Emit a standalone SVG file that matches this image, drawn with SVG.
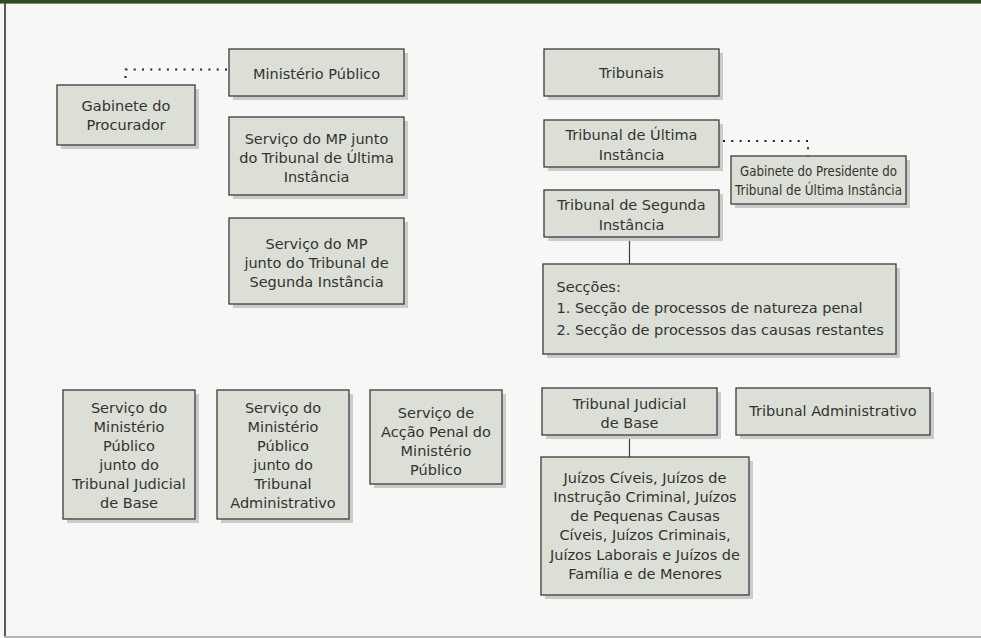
<svg xmlns="http://www.w3.org/2000/svg" width="981" height="638" viewBox="0 0 981 638">
<style>
.shadow{fill:#cbcbcb}
.box{fill:#dcdfd5;stroke:#3c3c3c;stroke-width:1.3}
.t{font-family:"DejaVu Sans","Liberation Sans",sans-serif;font-size:14.5px;fill:#333;text-anchor:middle}
.tl{text-anchor:start}
.conn{stroke:#3c3c3c;stroke-width:1.2;fill:none}
.dot{stroke:#222;stroke-width:2;fill:none;stroke-dasharray:2 6.3}
</style>
<rect x="0" y="0" width="981" height="638" fill="#f7f7f5"/>
<rect x="0" y="0" width="981" height="3" fill="#2f4d20"/>
<rect x="0" y="3" width="981" height="1" fill="#7a8f6e"/>
<rect x="4" y="3" width="2" height="634" fill="#5a5a5a"/>
<rect x="4" y="636" width="977" height="2" fill="#b5b5b5"/>

<g id="connectors">
<path class="dot" d="M227,69.5 H125.5 V80"/>
<path class="dot" d="M723,141 H808 V156"/>
<line class="conn" x1="629.5" y1="237" x2="629.5" y2="264"/>
<line class="conn" x1="629.5" y1="435" x2="629.5" y2="457"/>
</g>

<g id="ministerio-publico">
<rect class="shadow" x="233" y="53" width="175" height="47"/>
<rect class="box" x="229" y="49" width="175" height="47"/>
<text class="t" x="316.5" y="78.5">Ministério Público</text>
</g>

<g id="gabinete-procurador">
<rect class="shadow" x="61" y="89" width="138" height="60"/>
<rect class="box" x="57" y="85" width="138" height="60"/>
<text class="t" x="126" y="111">Gabinete do</text>
<text class="t" x="126" y="130">Procurador</text>
</g>

<g id="servico-mp-tui">
<rect class="shadow" x="233" y="121" width="175" height="78"/>
<rect class="box" x="229" y="117" width="175" height="78"/>
<text class="t" x="316.5" y="144">Serviço do MP junto</text>
<text class="t" x="316.5" y="163">do Tribunal de Última</text>
<text class="t" x="316.5" y="182">Instância</text>
</g>

<g id="servico-mp-tsi">
<rect class="shadow" x="233" y="222" width="175" height="86"/>
<rect class="box" x="229" y="218" width="175" height="86"/>
<text class="t" x="316.5" y="249">Serviço do MP</text>
<text class="t" x="316.5" y="268">junto do Tribunal de</text>
<text class="t" x="316.5" y="287">Segunda Instância</text>
</g>

<g id="tribunais">
<rect class="shadow" x="548" y="53" width="175" height="47"/>
<rect class="box" x="544" y="49" width="175" height="47"/>
<text class="t" x="631.5" y="77.5">Tribunais</text>
</g>

<g id="tui">
<rect class="shadow" x="548" y="124" width="175" height="47"/>
<rect class="box" x="544" y="120" width="175" height="47"/>
<text class="t" x="631.5" y="140">Tribunal de Última</text>
<text class="t" x="631.5" y="160">Instância</text>
</g>

<g id="gabinete-presidente">
<rect class="shadow" x="735" y="160" width="175" height="48"/>
<rect class="box" x="731" y="156" width="175" height="48"/>
<text class="t" x="818.5" y="176" textLength="157" lengthAdjust="spacingAndGlyphs">Gabinete do Presidente do</text>
<text class="t" x="818.5" y="194.5" textLength="167" lengthAdjust="spacingAndGlyphs">Tribunal de Última Instância</text>
</g>

<g id="tsi">
<rect class="shadow" x="548" y="194" width="175" height="47"/>
<rect class="box" x="544" y="190" width="175" height="47"/>
<text class="t" x="631.5" y="210">Tribunal de Segunda</text>
<text class="t" x="631.5" y="229.5">Instância</text>
</g>

<g id="seccoes">
<rect class="shadow" x="547" y="268" width="353" height="90"/>
<rect class="box" x="543" y="264" width="353" height="90"/>
<text class="t tl" x="556.5" y="292">Secções:</text>
<text class="t tl" x="556.5" y="313">1. Secção de processos de natureza penal</text>
<text class="t tl" x="556.5" y="335">2. Secção de processos das causas restantes</text>
</g>

<g id="servico-mp-tjb">
<rect class="shadow" x="67" y="394" width="132" height="129"/>
<rect class="box" x="63" y="390" width="132" height="129"/>
<text class="t" x="129" y="413">Serviço do</text>
<text class="t" x="129" y="432">Ministério</text>
<text class="t" x="129" y="451">Público</text>
<text class="t" x="129" y="470">junto do</text>
<text class="t" x="129" y="489">Tribunal Judicial</text>
<text class="t" x="129" y="508">de Base</text>
</g>

<g id="servico-mp-ta">
<rect class="shadow" x="221" y="394" width="132" height="129"/>
<rect class="box" x="217" y="390" width="132" height="129"/>
<text class="t" x="283" y="413">Serviço do</text>
<text class="t" x="283" y="432">Ministério</text>
<text class="t" x="283" y="451">Público</text>
<text class="t" x="283" y="470">junto do</text>
<text class="t" x="283" y="489">Tribunal</text>
<text class="t" x="283" y="508">Administrativo</text>
</g>

<g id="servico-accao-penal">
<rect class="shadow" x="374" y="394" width="132" height="94"/>
<rect class="box" x="370" y="390" width="132" height="94"/>
<text class="t" x="436" y="417.5">Serviço de</text>
<text class="t" x="436" y="436.5">Acção Penal do</text>
<text class="t" x="436" y="455.5">Ministério</text>
<text class="t" x="436" y="474.5">Público</text>
</g>

<g id="tjb">
<rect class="shadow" x="546" y="392" width="175" height="47"/>
<rect class="box" x="542" y="388" width="175" height="47"/>
<text class="t" x="629.5" y="409">Tribunal Judicial</text>
<text class="t" x="629.5" y="428">de Base</text>
</g>

<g id="ta">
<rect class="shadow" x="740" y="392" width="194" height="47"/>
<rect class="box" x="736" y="388" width="194" height="47"/>
<text class="t" x="833" y="416">Tribunal Administrativo</text>
</g>

<g id="juizos">
<rect class="shadow" x="545" y="461" width="208" height="138"/>
<rect class="box" x="541" y="457" width="208" height="138"/>
<text class="t" x="645" y="483">Juízos Cíveis, Juízos de</text>
<text class="t" x="645" y="502">Instrução Criminal, Juízos</text>
<text class="t" x="645" y="521">de Pequenas Causas</text>
<text class="t" x="645" y="540">Cíveis, Juízos Criminais,</text>
<text class="t" x="645" y="560">Juízos Laborais e Juízos de</text>
<text class="t" x="645" y="579">Família e de Menores</text>
</g>
</svg>
